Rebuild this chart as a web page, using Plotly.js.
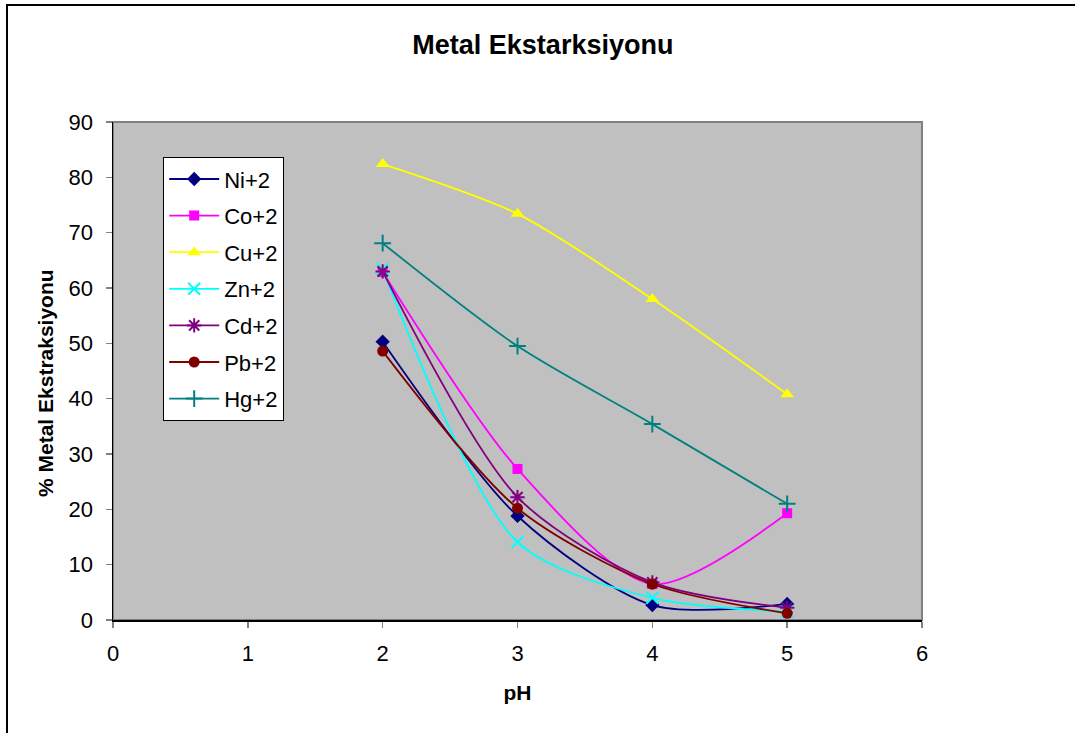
<!DOCTYPE html>
<html>
<head>
<meta charset="utf-8">
<script src="https://cdn.plot.ly/plotly-3.0.1.min.js"></script>
<style>
  body { margin: 0; padding: 0; background: #fff; }
  #wrap { position: relative; width: 1075px; height: 733px; overflow: hidden; }
  #chart { position: absolute; left: 0; top: 0; width: 1075px; height: 733px; }
  #frame { position: absolute; left: 6px; top: 4px; width: 1200px; height: 900px; border: 2px solid #000; pointer-events: none; }
</style>
</head>
<body>
<div id="wrap">
  <div id="chart"></div>
  <div id="frame"></div>
</div>
<script>
const pH = [2, 3, 4, 5];
const seriesNames = ["Ni+2", "Co+2", "Cu+2", "Zn+2", "Cd+2", "Pb+2", "Hg+2"];
const ni = [50.3, 18.8, 2.7, 2.9];
const co = [62.9, 27.3, 6.5, 19.3];
const cu = [82.4, 73.4, 58.0, 40.8];
const zn = [63.4, 14.1, 4.0, 1.5];
const cd = [63.0, 22.2, 6.8, 2.2];
const pb = [48.6, 20.2, 6.5, 1.2];
const hg = [68.1, 49.5, 35.4, 21.0];
const xTicks = [0, 1, 2, 3, 4, 5, 6];
const yTicks = [0, 10, 20, 30, 40, 50, 60, 70, 80, 90];
const yTitle = "% Metal Ekstraksiyonu";

const values = [ni, co, cu, zn, cd, pb, hg];
const colors = ["#000080", "#FF00FF", "#FFFF00", "#00FFFF", "#800080", "#800000", "#008080"];
const symbols = ["diamond", "square", "triangle-up", "x-thin-open", "asterisk-open", "circle", "cross-thin-open"];
const sizes = [11, 10, 12, 12, 12, 11, 12];

const traces = values.map((v, i) => ({
  x: pH, y: v, name: seriesNames[i], type: "scatter", mode: "lines+markers",
  legendgroup: "g" + i,
  line: { color: colors[i], width: 1.8, shape: "spline", smoothing: 0.8 },
  marker: { color: colors[i], symbol: symbols[i], size: sizes[i], line: { color: colors[i], width: symbols[i].includes("open") ? 2 : 0 } }
}));

const font = "Arial, 'Liberation Sans', sans-serif";
const layout = {
  width: 1075, height: 733,
  margin: { l: 113, r: 153, t: 122, b: 113 },
  paper_bgcolor: "#ffffff",
  plot_bgcolor: "#C0C0C0",
  font: { family: font, size: 22, color: "#000" },
  title: { text: "<b>Metal Ekstarksiyonu</b>", font: { family: font, size: 27, color: "#000" },
           x: 0.505, xref: "container", y: 1 - 45 / 733, yref: "container", yanchor: "middle" },
  xaxis: {
    range: [0, 6], tickvals: xTicks, ticktext: xTicks.map(String),
    showgrid: false, zeroline: false, showline: true, linecolor: "#000", linewidth: 1.5,
    ticks: "outside", ticklen: 6, tickcolor: "#808080", tickwidth: 1.5,
    tickfont: { family: font, size: 22 }, ticklabelstandoff: 7,
    title: { text: "<b>pH</b>", font: { family: font, size: 21 }, standoff: 20 }
  },
  yaxis: {
    range: [0, 90], tickvals: yTicks, ticktext: yTicks.map(String),
    showgrid: false, zeroline: false, showline: true, linecolor: "#000", linewidth: 1.5,
    ticks: "outside", ticklen: 6, tickcolor: "#808080", tickwidth: 1.5,
    tickfont: { family: font, size: 22 }, ticklabelstandoff: 8
  },
  annotations: [{
    text: "<b>" + yTitle + "</b>", textangle: -90, showarrow: false,
    xref: "paper", yref: "paper", x: (45 - 113) / 809, y: (620 - 383) / 498,
    xanchor: "center", yanchor: "middle", font: { family: font, size: 21, color: "#000" }
  }],
  shapes: [{ type: "rect", xref: "paper", yref: "paper", x0: 0, x1: 1, y0: 0, y1: 1,
             line: { color: "#808080", width: 2 }, layer: "below" }],
  legend: {
    x: (163 - 113) / 809, y: (620 - 157) / 498, xanchor: "left", yanchor: "top",
    bgcolor: "#ffffff", bordercolor: "#000", borderwidth: 1.2,
    font: { family: font, size: 22, color: "#000" },
    traceorder: "grouped", tracegroupgap: 5, itemwidth: 50
  },
  showlegend: true
};

Plotly.newPlot("chart", traces, layout, { displayModeBar: false, staticPlot: true });
</script>
</body>
</html>
